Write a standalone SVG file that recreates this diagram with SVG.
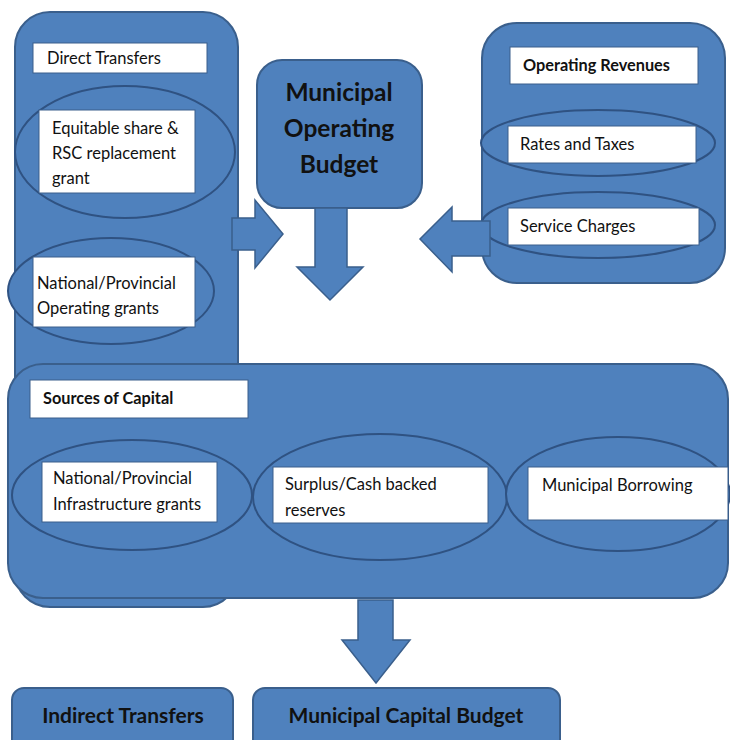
<svg xmlns="http://www.w3.org/2000/svg" width="730" height="740" viewBox="0 0 730 740">
<style>
.c{fill:#4f81bd;stroke:#3a5f8c;stroke-width:2}
.e{fill:#4f81bd;stroke:#2f5282;stroke-width:2}
.b{fill:#ffffff;stroke:#3a5f8c;stroke-width:1}
.t{font-family:Lato,"Open Sans",sans-serif;font-size:16.5px;fill:#111}
.tb{font-family:Lato,"Open Sans",sans-serif;font-size:16.3px;font-weight:bold;fill:#111}
.h{font-family:Lato,"Open Sans",sans-serif;font-size:24.5px;font-weight:bold;fill:#111;text-anchor:middle}
.hb{font-family:Lato,"Open Sans",sans-serif;font-size:21px;font-weight:bold;fill:#111;text-anchor:middle}
.a{fill:#4f81bd;stroke:#3a5f8c;stroke-width:1.5}
</style>
<rect width="730" height="740" fill="#ffffff"/>
<g id="direct-transfers">
<rect class="c" x="15" y="12" width="223" height="595" rx="35"/>
<rect class="b" x="33" y="43" width="174" height="30"/>
<text class="t" x="47" y="64">Direct Transfers</text>
</g>
<g id="sources-of-capital">
<rect class="c" x="8" y="364" width="720" height="234" rx="35"/>
<rect class="b" x="30" y="380" width="218" height="38"/>
<text class="tb" x="43" y="404">Sources of Capital</text>
</g>
<g id="equitable-share">
<ellipse class="e" cx="125" cy="152" rx="110" ry="66"/>
<rect class="b" x="39" y="110" width="156" height="83"/>
<text class="t" x="52" y="134">Equitable share &amp;</text>
<text class="t" x="52" y="159">RSC replacement</text>
<text class="t" x="52" y="184">grant</text>
</g>
<g id="operating-grants">
<ellipse class="e" cx="111" cy="291" rx="103" ry="53"/>
<rect class="b" x="33" y="257" width="162" height="70"/>
<text class="t" x="37" y="289">National/Provincial</text>
<text class="t" x="37" y="314">Operating grants</text>
</g>
<g id="operating-revenues">
<rect class="c" x="482" y="23" width="243" height="260" rx="35"/>
<rect class="b" x="510" y="47" width="188" height="37"/>
<text class="tb" x="523" y="71">Operating Revenues</text>
</g>
<g id="rates-and-taxes">
<ellipse class="e" cx="598" cy="143" rx="117" ry="33"/>
<rect class="b" x="508" y="126" width="188" height="37"/>
<text class="t" x="520" y="150">Rates and Taxes</text>
</g>
<g id="service-charges">
<ellipse class="e" cx="598" cy="225" rx="117" ry="33"/>
<rect class="b" x="508" y="208" width="191" height="37"/>
<text class="t" x="520" y="232">Service Charges</text>
</g>
<g id="municipal-operating-budget">
<rect class="c" x="257" y="60" width="165" height="148" rx="25"/>
<text class="h" x="339" y="101">Municipal</text>
<text class="h" x="339" y="137">Operating</text>
<text class="h" x="339" y="173">Budget</text>
</g>
<g id="infrastructure-grants">
<ellipse class="e" cx="132" cy="495" rx="120" ry="55"/>
<rect class="b" x="42" y="462" width="175" height="60"/>
<text class="t" x="53" y="484">National/Provincial</text>
<text class="t" x="53" y="510">Infrastructure grants</text>
</g>
<g id="surplus-reserves">
<ellipse class="e" cx="380" cy="497" rx="127" ry="63"/>
<rect class="b" x="273" y="467" width="215" height="56"/>
<text class="t" x="285" y="490">Surplus/Cash backed</text>
<text class="t" x="285" y="516">reserves</text>
</g>
<g id="municipal-borrowing">
<ellipse class="e" cx="618" cy="494" rx="112" ry="57"/>
<rect class="b" x="528" y="467" width="200" height="53"/>
<text class="t" x="542" y="491">Municipal Borrowing</text>
</g>
<g id="indirect-transfers">
<rect class="c" x="12" y="688" width="221" height="70" rx="12"/>
<text class="hb" x="123" y="723">Indirect Transfers</text>
</g>
<g id="municipal-capital-budget">
<rect class="c" x="253" y="688" width="307" height="70" rx="12"/>
<text class="hb" x="406" y="723">Municipal Capital Budget</text>
</g>
<g id="connectors">
<polygon class="a" points="232,218 255,218 255,200 283,234 255,268 255,250 232,250"/>
<polygon class="a" points="315,208 347,208 347,267 363,267 330,300 297,267 315,267"/>
<polygon class="a" points="490,221 452,221 452,207 420,239 452,272 452,256 490,256"/>
<polygon class="a" points="358,600 393,600 393,640 410,640 376,683 342,640 358,640"/>
</g>
</svg>
